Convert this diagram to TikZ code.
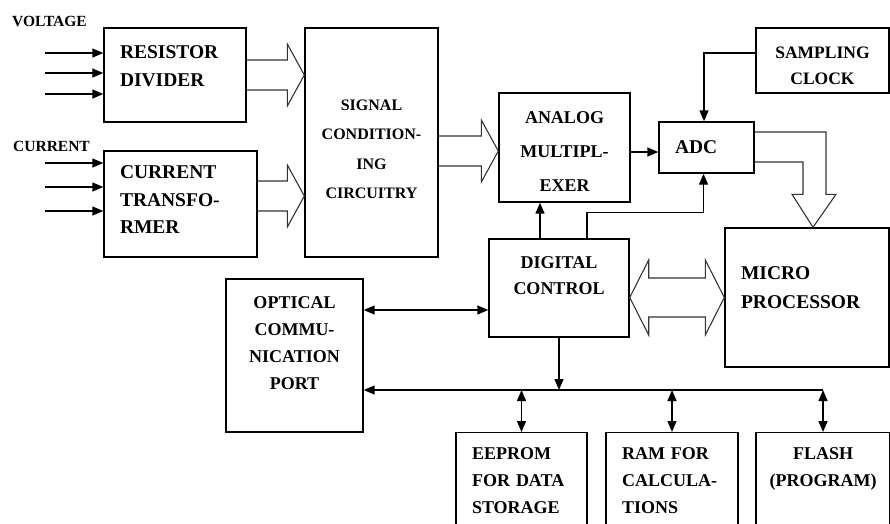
\documentclass[tikz,border=0pt]{standalone}
\usepackage{fontspec}
\setmainfont{Liberation Serif}
\usetikzlibrary{arrows.meta, positioning, calc}

% hollow bus arrow from #1.east to #2.west, axis at height #3
\newcommand{\fatarrow}[3]{%
  \draw[hollow] (#1.east |- 0,#3) ++(0,-15) -- ($(#2.west |- 0,#3)+(-17,-15)$) -- ++(0,-16)
    -- (#2.west |- 0,#3) -- ++(-17,31) -- ++(0,-16) -- ($(#1.east |- 0,#3)+(0,15)$);}

\begin{document}
\begin{tikzpicture}[x=1pt, y=-1pt,
    box/.style={draw, line width=1.4pt, inner ysep=4pt, font=\fontsize{18}{27}\selectfont\bfseries},
    lbox/.style={box, align=left, inner xsep=16pt},
    cbox/.style={box, align=center, inner xsep=4pt},
    firstline/.style={text height=0pt, text depth=#1},
    arr/.style={line width=1.4pt, -{Triangle[length=11pt,width=9pt]}},
    darr/.style={line width=1.4pt, {Triangle[length=11pt,width=9pt]}-{Triangle[length=11pt,width=9pt]}},
    hollow/.style={line width=1.1pt, draw=black!80, line join=miter},
    inlabel/.style={font=\fontsize{15.5}{18}\selectfont\bfseries, anchor=west, inner sep=0pt},
]
    \useasboundingbox (0,0) rectangle (890,523);

    % Inputs
    \node[inlabel] (vlabel) at (12,21) {VOLTAGE};
    \node[inlabel] (ilabel) at (13,146) {CURRENT};
    \node[lbox, text width=110pt, minimum height=94pt, firstline=33pt,
          font=\fontsize{19.5}{28}\selectfont\bfseries] (rdiv) at (175,75) {RESISTOR\\DIVIDER};
    \node[lbox, text width=121pt, minimum height=106pt, firstline=51pt,
          font=\fontsize{19.5}{27.5}\selectfont\bfseries] (ctrans) at (180.5,204) {CURRENT\\TRANSFO-\\RMER};
    \foreach \y [count=\i] in {53,73,94} {
        \coordinate (vin\i) at (45,\y);
        \draw[arr] (vin\i) -- (vin\i -| rdiv.west);
    }
    \foreach \y [count=\i] in {163,187,211} {
        \coordinate (iin\i) at (45,\y);
        \draw[arr] (iin\i) -- (iin\i -| ctrans.west);
    }

    % Signal path
    \node[cbox, text width=125pt, minimum height=229pt, firstline=64pt,
          font=\fontsize{16}{29.3}\selectfont\bfseries] (sigcond) at (371.5,142.5) {SIGNAL\\CONDITION-\\ING\\CIRCUITRY};
    \node[cbox, text width=123pt, minimum height=109pt, firstline=49pt,
          font=\fontsize{18}{34}\selectfont\bfseries] (amux) at (564.5,147.5) {ANALOG\\MULTIPL-\\EXER};
    \node[lbox, text width=63pt, minimum height=51pt,
          font=\fontsize{19.5}{28}\selectfont\bfseries] (adc) at (706.5,147.5) {ADC};
    \node[cbox, text width=125pt, minimum height=65pt, firstline=5pt,
          font=\fontsize{17.5}{26}\selectfont\bfseries] (sclock) at (822.5,60.5) {SAMPLING\\CLOCK};
    \fatarrow{rdiv}{sigcond}{75}
    \fatarrow{ctrans}{sigcond}{196}
    \fatarrow{sigcond}{amux}{151}
    \draw[arr] ($(amux.east)+(0,4.5)$) -- ($(adc.west)+(0,4.5)$);
    \draw[arr] ($(sclock.west)+(0,-7.5)$) -| ($(adc.north)+(-2.5,0)$);

    % Control and processor
    \node[lbox, text width=132pt, minimum height=139pt, firstline=36pt,
          font=\fontsize{19.5}{29}\selectfont\bfseries] (mproc) at (807,297.5) {MICRO\\PROCESSOR};
    \node[cbox, text width=132pt, minimum height=98pt, firstline=40pt,
          font=\fontsize{18}{26}\selectfont\bfseries] (dctrl) at (559,288) {DIGITAL\\CONTROL};
    \node[cbox, text width=129pt, minimum height=153pt, firstline=95pt] (optical) at (294.5,355.5) {OPTICAL\\COMMU-\\NICATION\\PORT};
    \draw[arr] ($(dctrl.north)+(-19,0)$) -- ($(amux.south)+(-24.5,0)$);
    \draw[arr] ($(dctrl.north)+(28,0)$) |- ($(adc.south)+(-3,39)$) -- ($(adc.south)+(-3,0)$);
    \draw[hollow] ($(adc.east)+(0,-15.5)$) -| ($(mproc.north)+(19,-33)$) -- ++(10,0)
        -- ($(mproc.north)+(6,0)$) -- ++(-21,-33) -- ++(11,0) |- ($(adc.east)+(0,14.5)$);
    \draw[hollow] ($(dctrl.east |- mproc.west)+(19,-19.5)$) -- ($(mproc.west)+(-19,-19.5)$) -- ++(0,-18)
        -- (mproc.west) -- ++(-19,37.5) -- ++(0,-18) -- ($(dctrl.east |- mproc.west)+(19,19.5)$)
        -- ++(0,18) -- (dctrl.east |- mproc.west) -- ++(19,-37.5) -- cycle;
    \draw[darr] (optical.east |- 0,310) -- (dctrl.west |- 0,310);

    % Memories
    \node[lbox, anchor=north, text width=99pt, minimum height=100pt, firstline=46pt] (eeprom) at (521.5,432) {EEPROM\\FOR DATA\\STORAGE};
    \node[lbox, anchor=north, text width=100pt, minimum height=100pt, firstline=46pt] (ram) at (672,432) {RAM FOR\\CALCULA-\\TIONS};
    \node[cbox, anchor=north, text width=126pt, minimum height=100pt, firstline=46pt] (flash) at (823,432) {FLASH\\(PROGRAM)};
    \coordinate (busL) at (optical.east |- 0,390);
    \draw[arr] (flash.north |- busL) -- (busL);
    \draw[arr] (dctrl.south) -- (dctrl.south |- busL);
    \foreach \mem in {eeprom, ram, flash}
        \draw[darr] (\mem.north |- busL) -- (\mem.north);
\end{tikzpicture}
\end{document}
